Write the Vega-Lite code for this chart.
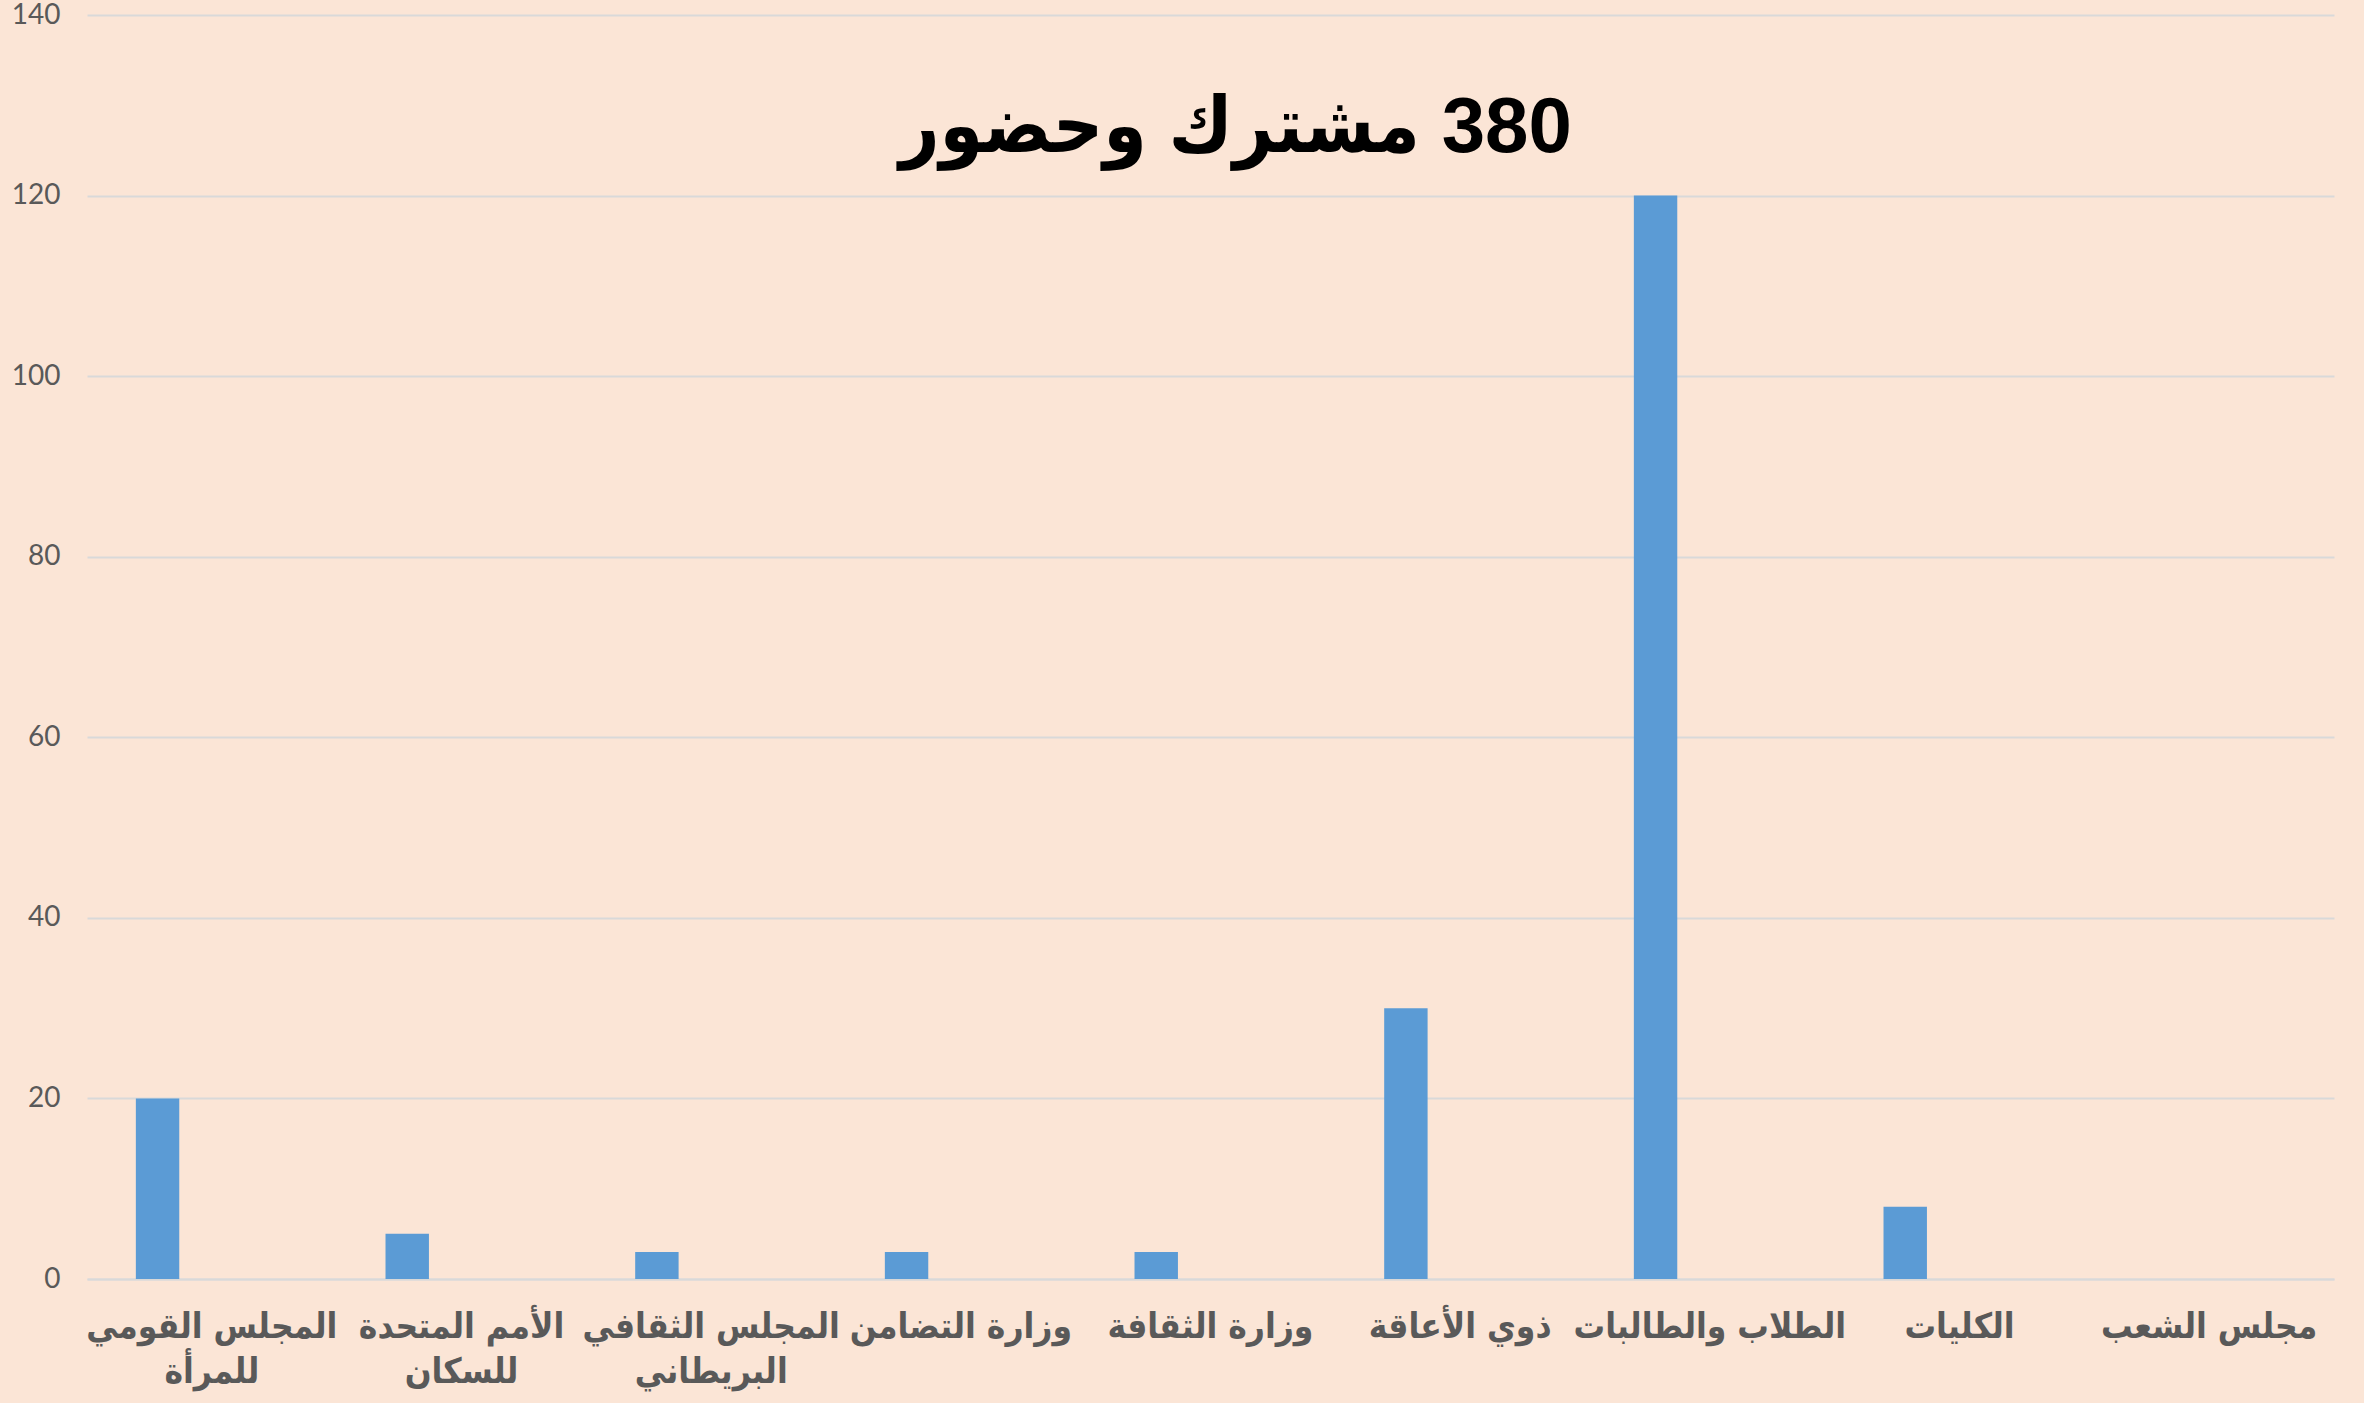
{
  "$schema": "https://vega.github.io/schema/vega-lite/v6.json",
  "autosize": {"type": "none"},
  "width": 2247,
  "height": 1264,
  "padding": {"left": 87, "top": 15, "right": 30, "bottom": 124},
  "background": "#FBE5D6",
  "title": {
    "text": "\u200F380 مشترك وحضور",
    "font": "Liberation Sans, DejaVu Sans Condensed",
    "fontSize": 78,
    "fontWeight": "bold",
    "color": "#000000",
    "anchor": "middle",
    "offset": -167,
    "dx": 25
  },
  "data": {
    "values": [
      {"cat": "المجلس القومي|للمرأة", "value": 20, "series": "a"},
      {"cat": "الأمم المتحدة|للسكان", "value": 5, "series": "a"},
      {"cat": "المجلس الثقافي|البريطاني", "value": 3, "series": "a"},
      {"cat": "وزارة التضامن", "value": 3, "series": "a"},
      {"cat": "وزارة الثقافة", "value": 3, "series": "a"},
      {"cat": "ذوي الأعاقة", "value": 30, "series": "a"},
      {"cat": "الطلاب والطالبات", "value": 120, "series": "a"},
      {"cat": "الكليات", "value": 8, "series": "a"},
      {"cat": "مجلس الشعب", "value": 0, "series": "a"}
    ]
  },
  "mark": {"type": "bar", "color": "#5B9BD5"},
  "encoding": {
    "x": {
      "field": "cat",
      "type": "nominal",
      "sort": null,
      "scale": {"paddingInner": 0, "paddingOuter": 0},
      "axis": {
        "title": null,
        "labelAngle": 0,
        "ticks": false,
        "domainColor": "#D9D9D9",
        "domainWidth": 2,
        "labelExpr": "split(datum.label, '|')",
        "labelFont": "DejaVu Sans Condensed",
        "labelFontSize": 35,
        "labelFontWeight": "bold",
        "labelColor": "#595959",
        "labelPadding": 30,
        "labelLineHeight": 45,
        "labelLimit": 400
      }
    },
    "xOffset": {
      "field": "series",
      "type": "nominal",
      "scale": {"domain": ["a", "b"], "paddingInner": 0.6, "paddingOuter": 0.45}
    },
    "y": {
      "field": "value",
      "type": "quantitative",
      "scale": {"domain": [0, 140], "nice": false},
      "axis": {
        "title": null,
        "values": [0, 20, 40, 60, 80, 100, 120, 140],
        "domain": false,
        "ticks": false,
        "gridColor": "#D9D9D9",
        "gridWidth": 2,
        "labelFont": "Lato",
        "labelFontSize": 28,
        "labelColor": "#595959",
        "labelPadding": 27
      }
    }
  },
  "config": {"view": {"stroke": null}}
}
